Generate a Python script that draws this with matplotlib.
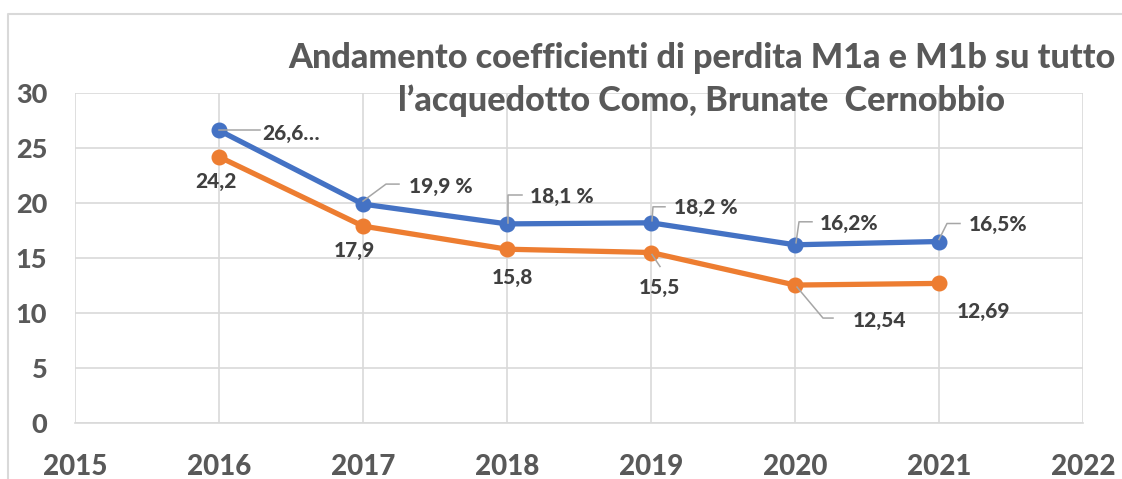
import matplotlib
matplotlib.use("Agg")
import matplotlib.pyplot as plt
from matplotlib.lines import Line2D

# data
years = [2016, 2017, 2018, 2019, 2020, 2021]
m1a = [26.6, 19.9, 18.1, 18.2, 16.2, 16.5]
m1b = [24.2, 17.9, 15.8, 15.5, 12.54, 12.69]
m1a_labels = ["26,6…", "19,9 %", "18,1 %", "18,2 %", "16,2%", "16,5%"]
m1b_labels = ["24,2", "17,9", "15,8", "15,5", "12,54", "12,69"]
x_ticks = [2015, 2016, 2017, 2018, 2019, 2020, 2021, 2022]
y_ticks = [0, 5, 10, 15, 20, 25, 30]
title_1 = "Andamento coefficienti di perdita M1a e M1b su tutto"
title_2 = "l’acquedotto Como, Brunate  Cernobbio"

BLUE = "#4472C4"
ORANGE = "#ED7D31"
TXT = "#404040"
GRID = "#D9D9D9"
LEAD = "#A6A6A6"
plt.rcParams["font.family"] = ["Lato", "DejaVu Sans"]

fig = plt.figure(figsize=(11.22, 4.79), dpi=100)
W, H = 1122, 479
ax = fig.add_axes([75 / W, 1 - 423 / H, (1083 - 75) / W, (423 - 93) / H])

ax.plot(years, m1a, color=BLUE, lw=3.8, marker="o", ms=10.5, solid_capstyle="round", zorder=3)
ax.plot(years, m1b, color=ORANGE, lw=3.8, marker="o", ms=10.5, solid_capstyle="round", zorder=3)

ax.set_xlim(2015, 2022)
ax.set_ylim(0, 30)
ax.set_xticks(x_ticks)
ax.set_yticks(y_ticks)
ax.grid(True, color=GRID, lw=1.2)
ax.set_axisbelow(True)
for s in ["top", "right", "left"]:
    ax.spines[s].set_visible(False)
ax.spines["bottom"].set_color(GRID)
ax.spines["bottom"].set_linewidth(1.2)
ax.tick_params(length=0, labelcolor="#595959")
ax.tick_params(axis="x", pad=22, labelsize=20)
ax.tick_params(axis="y", pad=20, labelsize=19.5)
for lab in ax.get_xticklabels() + ax.get_yticklabels():
    lab.set_fontweight("black")

# label placement in pixels (x right, y down) relative to each marker
blue_text = [(43, 3), (46, -18), (23, -27), (23, -15), (25, -21), (30, -17)]
blue_lead = [[(0, 0), (41, 0)],
             [(0, -3), (23, -20), (36, -20)],
             [(1, -1), (1, -29), (15, -29)],
             [(1, -2), (2, -16), (14, -16)],
             [(1, -2), (4, -23), (17, -23)],
             [(0, -2), (8, -18), (21, -18)]]
orange_text = [(-3, 25), (-9, 24), (5, 28), (8, 35), (58, 35), (45, 28)]
orange_ha = ["center", "center", "center", "center", "left", "center"]
orange_lead = [None, None, None,
               [(1, 2), (9, 14)],
               [(2, 2), (28, 33), (38, 33)],
               None]

inv = ax.transData.inverted()


def leader(xv, yv, pts):
    px, py = ax.transData.transform((xv, yv))
    xy = [inv.transform((px + dx, py - dy)) for dx, dy in pts]
    ax.add_line(Line2D([p[0] for p in xy], [p[1] for p in xy], color=LEAD, lw=1.1,
                       clip_on=False, zorder=4))


for i, yr in enumerate(years):
    dx, dy = blue_text[i]
    ax.annotate(m1a_labels[i], (yr, m1a[i]), xytext=(dx, -dy), textcoords="offset pixels",
                ha="left", va="center", fontsize=15, fontweight="black", color=TXT, zorder=5)
    leader(yr, m1a[i], blue_lead[i])
    dx, dy = orange_text[i]
    ax.annotate(m1b_labels[i], (yr, m1b[i]), xytext=(dx, -dy), textcoords="offset pixels",
                ha=orange_ha[i], va="center", fontsize=15, fontweight="black", color=TXT, zorder=5)
    if orange_lead[i]:
        leader(yr, m1b[i], orange_lead[i])

fig.text(702 / W, 1 - 58 / H, title_1, ha="center", va="center", fontsize=24.6,
         fontweight="black", color="#595959")
fig.text(701 / W, 1 - 101 / H, title_2, ha="center", va="center", fontsize=24.6,
         fontweight="black", color="#595959")

# outer chart frame
fig.add_artist(Line2D([8 / W, 8 / W, 1.0], [0, 1 - 14 / H, 1 - 14 / H],
                      transform=fig.transFigure, color=GRID, lw=1.5))

fig.savefig("out.png", dpi=100)
